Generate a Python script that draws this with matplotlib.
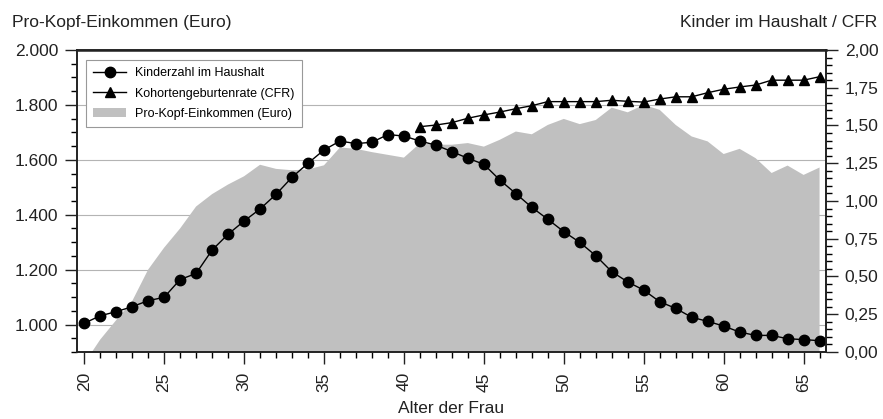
import numpy as np
import matplotlib
matplotlib.use("Agg")
import matplotlib.pyplot as plt
from matplotlib.ticker import MultipleLocator, FuncFormatter
from matplotlib.patches import Patch
from matplotlib.lines import Line2D

plt.rcParams['font.family'] = ['Liberation Sans', 'DejaVu Sans']

alter = np.arange(20, 67)

# Pro-Kopf-Einkommen (Euro), linke Achse
einkommen = [858, 945, 1016, 1085, 1200, 1280, 1350, 1430, 1475, 1510,
             1540, 1582, 1567, 1562, 1565, 1580, 1645, 1640, 1628, 1618,
             1608, 1660, 1655, 1655, 1661, 1648, 1673, 1703, 1693, 1727,
             1749, 1730, 1745, 1790, 1773, 1800, 1782, 1727, 1685, 1667,
             1621, 1640, 1606, 1552, 1579, 1545, 1572]

# Kinderzahl im Haushalt, rechte Achse
kinder = [0.19, 0.24, 0.267, 0.30, 0.34, 0.362, 0.48, 0.52, 0.675, 0.78,
          0.867, 0.947, 1.044, 1.157, 1.25, 1.338, 1.397, 1.38, 1.389, 1.44,
          1.43, 1.397, 1.37, 1.327, 1.283, 1.243, 1.139, 1.049, 0.958, 0.879,
          0.797, 0.726, 0.638, 0.532, 0.464, 0.41, 0.333, 0.289, 0.23, 0.203,
          0.172, 0.132, 0.11, 0.11, 0.088, 0.082, 0.075]

# Kohortengeburtenrate (CFR), ab Alter 41
alter_cfr = np.arange(41, 67)
cfr = [1.492, 1.503, 1.519, 1.548, 1.57, 1.589, 1.611, 1.631, 1.658, 1.658,
       1.658, 1.658, 1.667, 1.66, 1.655, 1.675, 1.69, 1.69, 1.717, 1.74,
       1.755, 1.768, 1.80, 1.80, 1.80, 1.823]

fig = plt.figure(figsize=(8.83, 4.19), dpi=100)
ax = fig.add_axes([0.0872, 0.1599, 0.8482, 0.7208])
ax2 = ax.twinx()

ax.fill_between(alter, 0, einkommen, color='#c0c0c0', lw=0)
ax.set_ylim(900, 2000)
ax.set_xlim(19.55, 66.4)
ax.yaxis.set_major_locator(MultipleLocator(200))
ax.yaxis.set_minor_locator(MultipleLocator(50))
ax.yaxis.set_major_formatter(FuncFormatter(lambda v, p: f"{int(v):,}".replace(",", ".")))
ax.xaxis.set_major_locator(MultipleLocator(5))
ax.xaxis.set_minor_locator(MultipleLocator(1))
ax.set_axisbelow(True)
ax.grid(axis='y', which='major', color='#b4b4b4', lw=0.8)

ax2.plot(alter, kinder, '-o', color='black', lw=1.0, ms=7.5, label='Kinderzahl im Haushalt')
ax2.plot(alter_cfr, cfr, '-^', color='black', lw=1.0, ms=7.5, label='Kohortengeburtenrate (CFR)')
ax2.set_ylim(0, 2.0)
ax2.yaxis.set_major_locator(MultipleLocator(0.25))
ax2.yaxis.set_minor_locator(MultipleLocator(0.05))
ax2.yaxis.set_major_formatter(FuncFormatter(lambda v, p: f"{v:.2f}".replace(".", ",")))

for a in (ax, ax2):
    a.tick_params(which='major', length=8.5, width=1.0, direction='out', labelsize=12.5,
                  colors='#222222', pad=5)
    a.tick_params(which='minor', length=4.5, width=1.0, direction='out')
    for s in a.spines.values():
        s.set_linewidth(1.2)
        s.set_color('#222222')
ax.spines['top'].set_linewidth(1.8)
ax.tick_params(axis='x', labelrotation=90, pad=6)

fig.text(0.0136, 0.947, 'Pro-Kopf-Einkommen (Euro)', fontsize=12.5, va='center', ha='left', color='#222222')
fig.text(0.993, 0.947, 'Kinder im Haushalt / CFR', fontsize=12.5, va='center', ha='right', color='#222222')
fig.text(0.511, 0.026, 'Alter der Frau', fontsize=12.5, va='center', ha='center', color='#222222')

handles = [Line2D([], [], color='black', marker='o', lw=1.0, ms=7.5),
           Line2D([], [], color='black', marker='^', lw=1.0, ms=7.5),
           Patch(facecolor='#c0c0c0', edgecolor='none')]
labels = ['Kinderzahl im Haushalt', 'Kohortengeburtenrate (CFR)', 'Pro-Kopf-Einkommen (Euro)']
leg = ax2.legend(handles, labels, loc='upper left', bbox_to_anchor=(0.012, 0.967),
                 borderaxespad=0, fontsize=9, fancybox=False, framealpha=1,
                 edgecolor='#999999', handlelength=2.6, handletextpad=0.7,
                 labelspacing=0.65, borderpad=0.6)
leg.get_frame().set_linewidth(0.8)

fig.savefig('out.png', dpi=100)
